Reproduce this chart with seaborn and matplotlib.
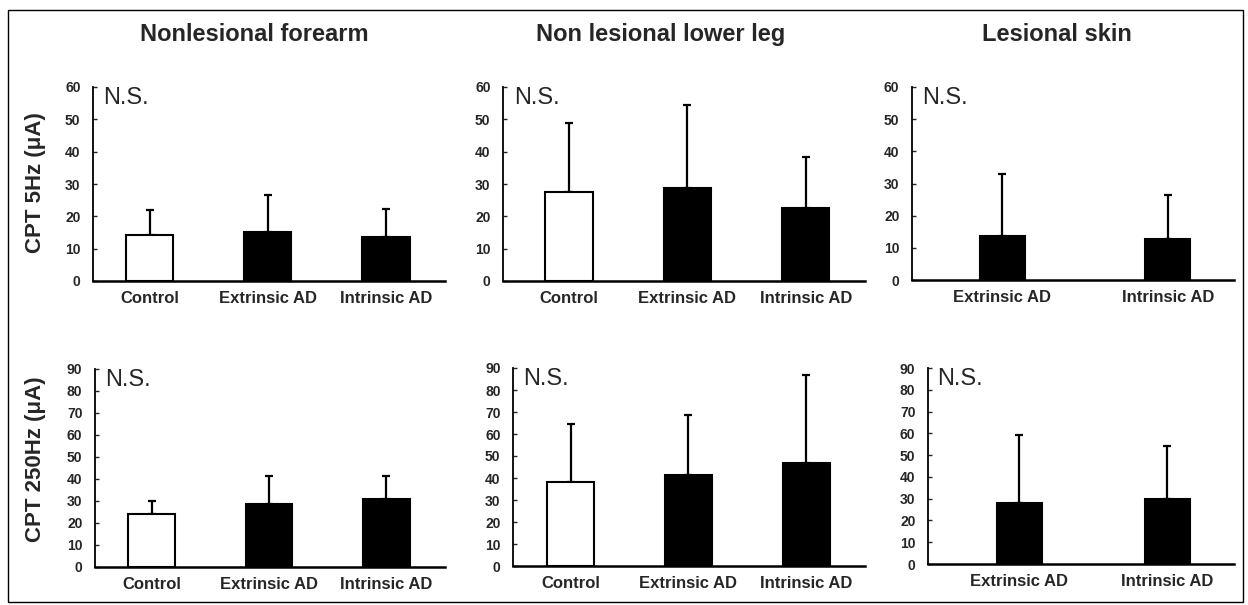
import numpy as np
import pandas as pd
import matplotlib
matplotlib.use("Agg")
import matplotlib.pyplot as plt
from matplotlib.patches import Rectangle
import seaborn as sns

# ---------------- data ----------------
titles = ["Nonlesional forearm", "Non lesional lower leg", "Lesional skin"]
ylabels = ["CPT 5Hz (\u03bcA)", "CPT 250Hz (\u03bcA)"]
cats3 = ["Control", "Extrinsic AD", "Intrinsic AD"]
cats2 = ["Extrinsic AD", "Intrinsic AD"]

# CPT 5Hz
fore5_mean = [14.2, 15.3, 13.6]
fore5_sd = [7.7, 11.3, 8.6]
leg5_mean = [27.5, 28.7, 22.6]
leg5_sd = [21.4, 25.7, 15.8]
les5_mean = [13.7, 12.9]
les5_sd = [19.2, 13.5]

# CPT 250Hz
fore250_mean = [24.2, 28.6, 31.0]
fore250_sd = [6.0, 12.6, 10.2]
leg250_mean = [38.3, 41.4, 47.0]
leg250_sd = [26.2, 27.2, 40.0]
les250_mean = [28.2, 29.8]
les250_sd = [31.0, 24.5]

yticks5 = list(range(0, 61, 10))
yticks250 = list(range(0, 91, 10))
annotation = "N.S."

# ---------------- style ----------------
sns.set_style("white")
plt.rcParams["font.family"] = ["Liberation Sans", "DejaVu Sans"]

W, H = 1248, 605
fig = plt.figure(figsize=(W / 100, H / 100), dpi=100)

def axes_px(left, right, top, bottom):
    return fig.add_axes([left / W, 1 - bottom / H, (right - left) / W, (bottom - top) / H])

panels = [
    # (cats, mean, sd, yticks, (left,right,top,bottom), xlim, width)
    (cats3, fore5_mean, fore5_sd, yticks5, (93, 445, 87, 281), (-0.48, 2.5), 0.40),
    (cats3, leg5_mean, leg5_sd, yticks5, (503, 865, 87, 281), (-0.557, 2.5), 0.40),
    (cats2, les5_mean, les5_sd, yticks5, (912, 1234, 87, 280), (-0.545, 1.40), 0.27),
    (cats3, fore250_mean, fore250_sd, yticks250, (95, 445, 369, 567), (-0.483, 2.5), 0.40),
    (cats3, leg250_mean, leg250_sd, yticks250, (513, 865, 368, 566), (-0.49, 2.5), 0.40),
    (cats2, les250_mean, les250_sd, yticks250, (928, 1234, 368, 564), (-0.616, 1.449), 0.30),
]

for cats, mean, sd, yt, box, xlim, width in panels:
    ax = axes_px(*box)
    df = pd.DataFrame({"group": cats, "value": mean})
    colors = ["white" if c == "Control" else "black" for c in cats]
    sns.barplot(data=df, x="group", y="value", hue="group", palette=colors,
                width=width, edgecolor="black", linewidth=1.5, legend=False,
                ax=ax, zorder=2)
    n = len(cats)
    ax.errorbar(np.arange(n), mean, yerr=[np.zeros(n), sd], fmt="none",
                ecolor="black", elinewidth=1.6, capsize=3, capthick=1.6, zorder=1)
    ax.set_xlim(*xlim)
    ax.set_ylim(yt[0], yt[-1])
    ax.set_yticks(yt)
    ax.set_yticklabels([str(v) for v in yt], fontsize=10, fontweight="bold")
    ax.set_xlabel("")
    ax.set_ylabel("")
    ax.tick_params(axis="y", direction="in", length=3, width=1, pad=9, left=True)
    ax.tick_params(axis="x", length=0, pad=7, labelsize=12)
    for lab in ax.get_xticklabels():
        lab.set_fontweight("bold")
    for s in ["top", "right"]:
        ax.spines[s].set_visible(False)
    ax.spines["left"].set_linewidth(1.3)
    ax.spines["bottom"].set_linewidth(1.8)
    ax.spines["left"].set_color("black")
    ax.spines["bottom"].set_color("black")
    ax.text(0.03, 1.0, annotation, transform=ax.transAxes, ha="left", va="top",
            fontsize=17)

# column titles
for t, xc in zip(titles, [254, 661, 1057]):
    fig.text(xc / W, 1 - 41 / H, t, ha="center", va="baseline",
             fontsize=17, fontweight="bold")

# row labels
for lab, yc in zip(ylabels, [183, 459]):
    fig.text(36 / W, 1 - yc / H, lab, ha="center", va="center", rotation=90,
             fontsize=16, fontweight="bold")

# outer border
fig.patches.append(Rectangle((8 / W, 1 - 602 / H), (1243 - 8) / W, (602 - 10) / H,
                             transform=fig.transFigure, fill=False,
                             edgecolor="black", linewidth=1))

fig.savefig("out.png", dpi=100)
